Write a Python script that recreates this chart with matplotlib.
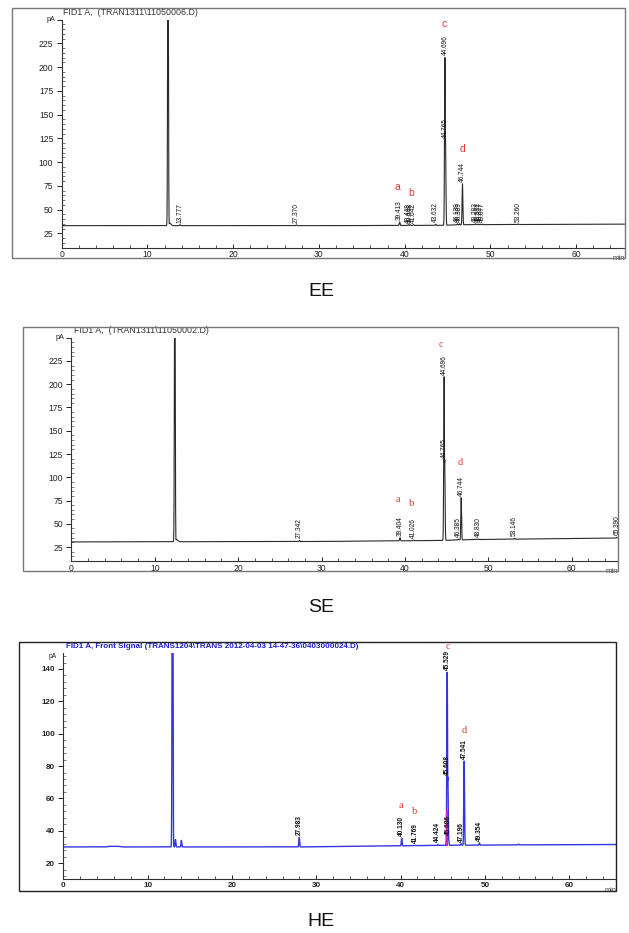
import numpy as np
import matplotlib
matplotlib.use("Agg")
import matplotlib.pyplot as plt
from matplotlib.patches import Rectangle
from matplotlib.ticker import MultipleLocator, FixedLocator, FixedFormatter

W, H = 629, 933

# ---------------- data ----------------
# EE
ee_title = "FID1 A,  (TRAN1311\\11050006.D)"
ee_rt = [12.40, 12.62, 13.777, 27.370, 39.413, 40.448, 40.648, 41.042, 43.632,
         44.696, 44.765, 46.139, 46.389, 46.744, 48.283, 48.577, 48.827, 49.077, 53.260]
ee_apex = [400, 35.5, 34.0, 33.8, 37.0, 34.0, 34.0, 34.0, 34.5,
           210, 123, 35.0, 35.0, 77, 35.0, 34.6, 34.6, 34.6, 34.8]
ee_lab = ["", "", "13.777", "27.370", "39.413", "40.448", "40.648", "41.042", "43.632",
          "44.696", "44.765", "46.139", "46.389", "46.744", "48.283", "48.577", "48.827",
          "49.077", "53.260"]
ee_base_t = [0, 30, 44, 47, 65.7]
ee_base_v = [33.0, 33.0, 33.3, 34.0, 34.6]
ee_mark = ["a", "b", "c", "d"]
ee_mark_t = [39.2, 40.8, 44.6, 46.7]
ee_mark_v = [73.7, 67.0, 245, 114]

# SE
se_title = "FID1 A,  (TRAN1311\\11050002.D)"
se_rt = [12.40, 12.62, 27.342, 39.404, 41.026, 44.696, 44.765, 46.385, 46.744,
         48.830, 53.146, 65.390]
se_apex = [400, 33.0, 32.0, 35.0, 32.5, 208, 119, 33.5, 78, 33.5, 34.5, 35.5]
se_lab = ["", "", "27.342", "39.404", "41.026", "44.696", "44.765", "46.385", "46.744",
          "48.830", "53.146", "65.390"]
se_base_t = [0, 30, 44, 48, 65.55]
se_base_v = [30.5, 31.0, 32.0, 33.0, 34.7]
se_mark = ["a", "b", "c", "d"]
se_mark_t = [39.2, 40.8, 44.3, 46.6]
se_mark_v = [76.6, 71.5, 243, 116]

# HE
he_title = "FID1 A, Front Signal (TRANS1204\\TRANS 2012-04-03 14-47-36\\0403000024.D)"
he_rt = [12.95, 13.30, 14.00, 27.983, 40.130, 41.769, 44.424, 45.529, 45.608,
         45.686, 47.196, 47.541, 49.354, 54.0]
he_apex = [300, 34.5, 34.0, 36.0, 35.5, 31.0, 31.5, 138, 73, 36.0, 32.0, 83, 32.5, 31.8]
he_lab = ["", "", "", "27.983", "40.130", "41.769", "44.424", "45.529", "45.608",
          "45.686", "47.196", "47.541", "49.354", ""]
he_base_t = [0, 5.0, 5.5, 6.5, 7.0, 28, 40, 45, 55, 65.55]
he_base_v = [30.0, 30.0, 30.4, 30.4, 30.0, 30.0, 30.7, 31.0, 31.3, 31.5]
he_mark = ["a", "b", "c", "d"]
he_mark_t = [40.05, 41.7, 45.6, 47.6]
he_mark_v = [55.9, 51.7, 154, 102]

RED = "#e03a33"


def fig_rect(L, R, T, B):
    return [L / W, 1 - B / H, (R - L) / W, (B - T) / H]


def trace(t, rt, apex, bt, bv, sig):
    base = np.interp(t, bt, bv)
    comps = []
    for r, a in zip(rt, apex):
        amp = a - np.interp(r, bt, bv)
        s = sig * (3.0 if amp < 4 and r < 13 else 1.0)
        comps.append(amp * np.exp(-(t - r) ** 2 / (2 * s ** 2)))
    return base + np.max(np.array(comps), axis=0)


fig = plt.figure(figsize=(W / 100, H / 100), dpi=100)


def panel(axpx, framepx, xmax, ylim, ymajor, yminor, ylabels, title, tcolor, tbold,
          rt, apex, lab, bt, bv, marks, mt, mv, lcolor, lw, fs_tick, tick_bold,
          frame_color, mark_family, lab_bold, pa_tick):
    L, R, T, B = axpx
    ax = fig.add_axes(fig_rect(L, R, T, B))
    fl, fr, ft, fb = framepx
    fig.patches.append(Rectangle((fl / W, 1 - fb / H), (fr - fl) / W, (fb - ft) / H,
                                 transform=fig.transFigure, fill=False,
                                 edgecolor=frame_color, lw=1.0, zorder=5))
    t = np.linspace(0, xmax, 30000)
    y = trace(t, rt, apex, bt, bv, 0.045)
    ax.plot(t, y, color=lcolor, lw=lw, zorder=2)
    ax.set_xlim(0, xmax)
    ax.set_ylim(*ylim)
    for s in ("top", "right"):
        ax.spines[s].set_visible(False)
    for s in ("left", "bottom"):
        ax.spines[s].set_color("#333333")
        ax.spines[s].set_linewidth(0.8)
    ax.set_xticks([0, 10, 20, 30, 40, 50, 60])
    ax.xaxis.set_minor_locator(MultipleLocator(2))
    ax.yaxis.set_major_locator(FixedLocator(ymajor))
    ax.yaxis.set_major_formatter(FixedFormatter(ylabels))
    ax.yaxis.set_minor_locator(MultipleLocator(yminor))
    ax.tick_params(axis="x", which="major", direction="in", length=3, width=0.7,
                   pad=2, labelsize=fs_tick, colors="#222222")
    ax.tick_params(axis="x", which="minor", direction="in", length=2, width=0.6,
                   colors="#333333")
    ax.tick_params(axis="y", which="major", direction="out", length=3.5, width=0.7,
                   pad=2.5, labelsize=fs_tick, colors="#222222")
    ax.tick_params(axis="y", which="minor", direction="in", length=2, width=0.5,
                   colors="#444444")
    for lbl in ax.get_xticklabels() + ax.get_yticklabels():
        lbl.set_family("Liberation Sans")
        if tick_bold:
            lbl.set_fontweight("bold")
    if pa_tick is not None:
        ax.text(-0.012, pa_tick, "pA", transform=ax.get_yaxis_transform(),
                ha="right", va="center", fontsize=fs_tick - 1.0,
                family="Liberation Sans", color="#222222")
    ax.text(1.0, -0.032, "min", transform=ax.transAxes, ha="right", va="top",
            fontsize=fs_tick - 0.5, family="Liberation Sans", color="#444444")
    # retention-time labels
    for r, a, s in zip(rt, apex, lab):
        if not s:
            continue
        ax.annotate(s, (r, a), xytext=(0, 1.5), textcoords="offset points",
                    rotation=90, ha="center", va="bottom", fontsize=4.7,
                    family="Liberation Sans",
                    fontweight="bold" if lab_bold else "normal",
                    color="#111111", zorder=4, annotation_clip=False)
    for m, x, v in zip(marks, mt, mv):
        ax.text(x, v, m, ha="center", va="center", fontsize=7.5, color=RED,
                family=mark_family, clip_on=False, zorder=4)
    # title
    fig.text(title[1] / W, 1 - title[2] / H, title[0], ha="left", va="center",
             fontsize=title[3], color=tcolor, family="Liberation Sans",
             fontweight="bold" if tbold else "normal")
    return ax


# EE
panel((61.7, 625, 19.55, 247.5), (11.7, 625, 8.3, 257.7), 65.7, (10, 250),
      [25, 50, 75, 100, 125, 150, 175, 200, 225, 250],
      5, ["25", "50", "75", "100", "125", "150", "175", "200", "225", ""],
      (ee_title, 63, 12.8, 6.4), "#333333", False,
      ee_rt, ee_apex, ee_lab, ee_base_t, ee_base_v, ee_mark, ee_mark_t, ee_mark_v,
      "#2a2a2a", 0.8, 6.2, False, "#777777", "Liberation Sans", False, 250)

# SE
se_ax = panel((71.4, 618, 337.7, 561.0), (23.3, 618, 326.7, 571), 65.55, (10, 250),
              [25, 50, 75, 100, 125, 150, 175, 200, 225, 250],
              5, ["25", "50", "75", "100", "125", "150", "175", "200", "225", ""],
              (se_title, 74, 330.5, 6.4), "#333333", False,
              se_rt, se_apex, se_lab, se_base_t, se_base_v, se_mark, se_mark_t, se_mark_v,
              "#2a2a2a", 0.8, 6.2, False, "#777777", "Liberation Serif", False, 250)

# HE
he_ax = panel((63.3, 616, 652.8, 879.3), (19, 616, 641.7, 890.7), 65.55, (10, 150),
              [20, 40, 60, 80, 100, 120, 140],
              4, ["20", "40", "60", "80", "100", "120", "140"],
              (he_title, 66.5, 646.5, 5.75), "#1f1fd0", True,
              he_rt, he_apex, he_lab, he_base_t, he_base_v, he_mark, he_mark_t, he_mark_v,
              "#3535e0", 1.0, 5.8, True, "#222222", "Liberation Serif", True, 148)
# magenta integration marker at the base of peak c (HE)
he_ax.plot([45.56, 45.56], [31.0, 52.0], color="#d020c0", lw=1.4, zorder=3)

# sample names
for name, yy in (("EE", 292), ("SE", 607), ("HE", 922)):
    fig.text(321 / W, 1 - yy / H, name, ha="center", va="center", fontsize=14,
             family="Liberation Sans", color="#111111")

fig.savefig("out.png", dpi=100)
